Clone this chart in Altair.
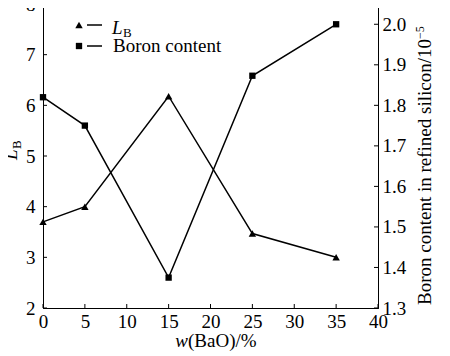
import altair as alt
import pandas as pd

# ---- data ----
bao = [0, 5, 15, 25, 35]
lb_values = [3.70, 4.00, 6.18, 3.47, 3.00]
boron_values = [1.82, 1.75, 1.375, 1.873, 2.00]
x_ticks = [0, 5, 10, 15, 20, 25, 30, 35, 40]
lb_ticks = [2, 3, 4, 5, 6, 7, 8]
boron_ticks = [1.3, 1.4, 1.5, 1.6, 1.7, 1.8, 1.9, 2.0]

W, H = 335, 304
FONT = "Times New Roman, Liberation Serif, serif"
FS = 19

df = pd.DataFrame({"x": bao, "lb": lb_values, "boron": boron_values})
xt = pd.DataFrame({"t": x_ticks})
lt = pd.DataFrame({"t": lb_ticks})
bt = pd.DataFrame({"t": boron_ticks})
one = alt.Data(values=[{}])

xscale = alt.Scale(domain=[0, 40], nice=False, zero=False)
lscale = alt.Scale(domain=[2, 8], nice=False, zero=False)
bscale = alt.Scale(domain=[1.3, 2.05], nice=False, zero=False)

xaxis = alt.Axis(values=x_ticks, ticks=False, grid=False, title=None, labelFont=FONT,
                 labelFontSize=FS, labelColor="black", labelPadding=4, labelOverlap=False,
                 labelFlush=False, domainColor="black")
laxis = alt.Axis(values=lb_ticks, ticks=False, grid=False, title=None, labelFont=FONT,
                 labelFontSize=FS, labelColor="black", labelPadding=8, labelOverlap=False,
                 labelFlush=False, domainColor="black", orient="left")
baxis = alt.Axis(values=boron_ticks, ticks=False, grid=False, title=None, labelFont=FONT,
                 labelFontSize=FS, labelColor="black", labelPadding=4, labelOverlap=False,
                 labelFlush=False, domainColor="black", orient="right", format=".1f")

X = alt.X("x:Q", scale=xscale, axis=xaxis)

lb_line = alt.Chart(df).mark_line(color="black", strokeWidth=1.5).encode(
    x=X, y=alt.Y("lb:Q", scale=lscale, axis=laxis))
lb_pts = alt.Chart(df).mark_point(shape="triangle-up", filled=True, size=55, color="black",
                                  opacity=1).encode(
    x=X, y=alt.Y("lb:Q", scale=lscale, axis=laxis))

x_tick_rules = alt.Chart(xt).mark_rule(color="black", strokeWidth=1).encode(
    x=alt.X("t:Q", scale=xscale, axis=xaxis), y=alt.value(H - 4), y2=alt.value(H))
l_tick_rules = alt.Chart(lt).mark_rule(color="black", strokeWidth=1).encode(
    y=alt.Y("t:Q", scale=lscale, axis=laxis), x=alt.value(0), x2=alt.value(4))


def txt(s, x, y, size=FS, style="normal", angle=0, align="left"):
    return alt.Chart(one).mark_text(text=s, font=FONT, fontSize=size, fontStyle=style,
                                    color="black", align=align, baseline="alphabetic",
                                    angle=angle).encode(x=alt.value(x), y=alt.value(y))


# legend
leg_tri = alt.Chart(one).mark_point(shape="triangle-up", filled=True, size=55, color="black",
                                    opacity=1).encode(x=alt.value(36), y=alt.value(21))
leg_sq = alt.Chart(one).mark_point(shape="square", filled=True, size=40, color="black",
                                   opacity=1).encode(x=alt.value(36), y=alt.value(42))
leg_l1 = alt.Chart(one).mark_rule(color="black", strokeWidth=1.5).encode(
    x=alt.value(44), x2=alt.value(59), y=alt.value(21))
leg_l2 = alt.Chart(one).mark_rule(color="black", strokeWidth=1.5).encode(
    x=alt.value(44), x2=alt.value(59), y=alt.value(42))

texts = [
    txt("L", 69, 30, style="italic"),
    txt("B", 80, 33, size=13),
    txt("Boron content", 70, 48),
    # left axis title L_B
    txt("L", -26, 156, style="italic", angle=270),
    txt("B", -22, 145, size=13, angle=270),
    # x axis title
    txt("w", 145, 343, style="italic", align="right"),
    txt("(BaO)/%", 145, 343),
    # right axis title
    txt("Boron content in refined silicon/10", 388, 301, angle=270),
    txt("\u22125", 381, 35, size=12, angle=270),
]

left = alt.layer(lb_line, lb_pts, x_tick_rules, l_tick_rules, leg_tri, leg_sq, leg_l1, leg_l2,
                 *texts)

b_line = alt.Chart(df).mark_line(color="black", strokeWidth=1.5).encode(
    x=X, y=alt.Y("boron:Q", scale=bscale, axis=baxis))
b_pts = alt.Chart(df).mark_point(shape="square", filled=True, size=40, color="black",
                                 opacity=1).encode(
    x=X, y=alt.Y("boron:Q", scale=bscale, axis=baxis))
b_tick_rules = alt.Chart(bt).mark_rule(color="black", strokeWidth=1).encode(
    y=alt.Y("t:Q", scale=bscale, axis=baxis), x=alt.value(W - 4), x2=alt.value(W))

right = alt.layer(b_line, b_pts, b_tick_rules)

chart = alt.layer(left, right).resolve_scale(y="independent").properties(
    width=W, height=H,
    autosize=alt.AutoSizeParams(type="none"),
    padding={"left": 35, "top": -4, "right": 62, "bottom": 48},
    background="white",
).configure_view(stroke="black", strokeWidth=1)

chart.save("out.html", embed_options={"renderer": "svg", "actions": False})
